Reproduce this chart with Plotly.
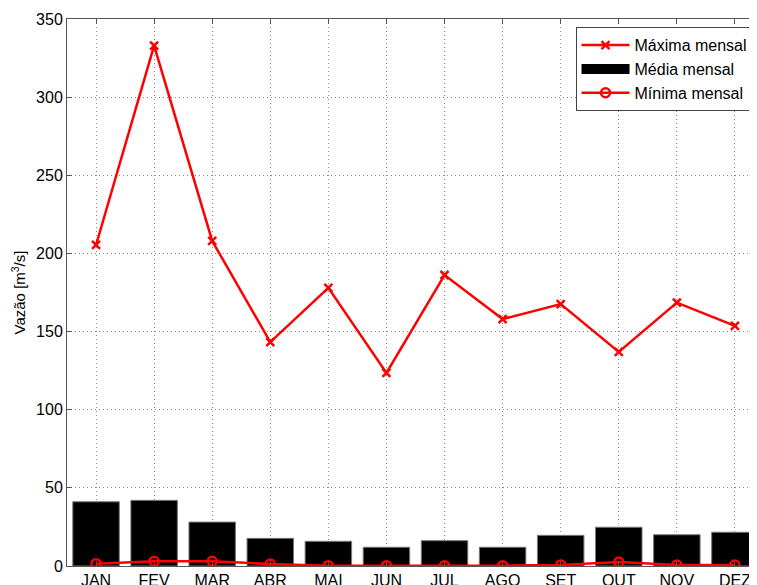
import plotly.graph_objects as go

meses = ["JAN", "FEV", "MAR", "ABR", "MAI", "JUN", "JUL", "AGO", "SET", "OUT", "NOV", "DEZ"]
maxima = [205.4, 333.0, 208.0, 143.3, 178.0, 123.5, 186.2, 158.0, 167.6, 137.0, 168.5, 153.6]
media = [41.1, 42.0, 28.1, 17.7, 15.8, 12.0, 16.2, 12.0, 19.6, 24.8, 20.0, 21.6]
minima = [1.5, 3.0, 3.0, 1.3, 0.2, 0.2, 0.2, 0.2, 0.7, 2.5, 0.7, 0.7]

x = list(range(1, len(meses) + 1))
RED = "#ff0000"
FONT = "Liberation Sans, Arial, sans-serif"

fig = go.Figure()

fig.add_trace(go.Scatter(
    x=x, y=maxima, name="Máxima mensal", mode="lines+markers",
    line=dict(color=RED, width=2.5),
    marker=dict(symbol="x-thin", size=8, line=dict(color=RED, width=2.5), color=RED),
))

fig.add_trace(go.Bar(
    x=x, y=media, name="Média mensal", width=0.8, showlegend=False,
    marker=dict(color="black", line=dict(color="#777", width=1)),
))
# legend entry for the bars (wide black swatch like the original)
fig.add_trace(go.Scatter(
    x=[None], y=[None], name="Média mensal", mode="lines",
    line=dict(color="black", width=14),
))

fig.add_trace(go.Scatter(
    x=x, y=minima, name="Mínima mensal", mode="lines+markers",
    line=dict(color=RED, width=2.5),
    marker=dict(symbol="circle-open", size=9, line=dict(color=RED, width=2.5)),
))

grid = dict(showgrid=True, gridcolor="#8a8a8a", griddash="1px,3px", gridwidth=1)

# page body adds an 8px margin, so the figure is sized/offset to compensate
fig.update_layout(
    width=749, height=577,
    margin=dict(l=59, r=0, t=11, b=19),
    plot_bgcolor="white", paper_bgcolor="white",
    font=dict(family=FONT, size=16, color="black"),
    xaxis=dict(
        range=[0.5, 12.38], tickmode="array", tickvals=x, ticktext=meses,
        showline=True, linecolor="#555", linewidth=1, mirror="ticks",
        ticks="inside", ticklen=5, tickcolor="#555", zeroline=False,
        automargin=False, **grid,
    ),
    yaxis=dict(
        range=[0, 350], dtick=50,
        title=dict(text="Vazão [m<sup>3</sup>/s]", standoff=6, font=dict(size=15)),
        showline=True, linecolor="#555", linewidth=1, mirror="ticks",
        ticks="inside", ticklen=5, tickcolor="#555", zeroline=False,
        automargin=False, **grid,
    ),
    legend=dict(
        x=0.737, y=0.985, xanchor="left", yanchor="top",
        bgcolor="white", bordercolor="#444", borderwidth=1,
        font=dict(size=16), tracegroupgap=0, itemwidth=48,
    ),
    showlegend=True,
)

fig.write_html("out.html")
